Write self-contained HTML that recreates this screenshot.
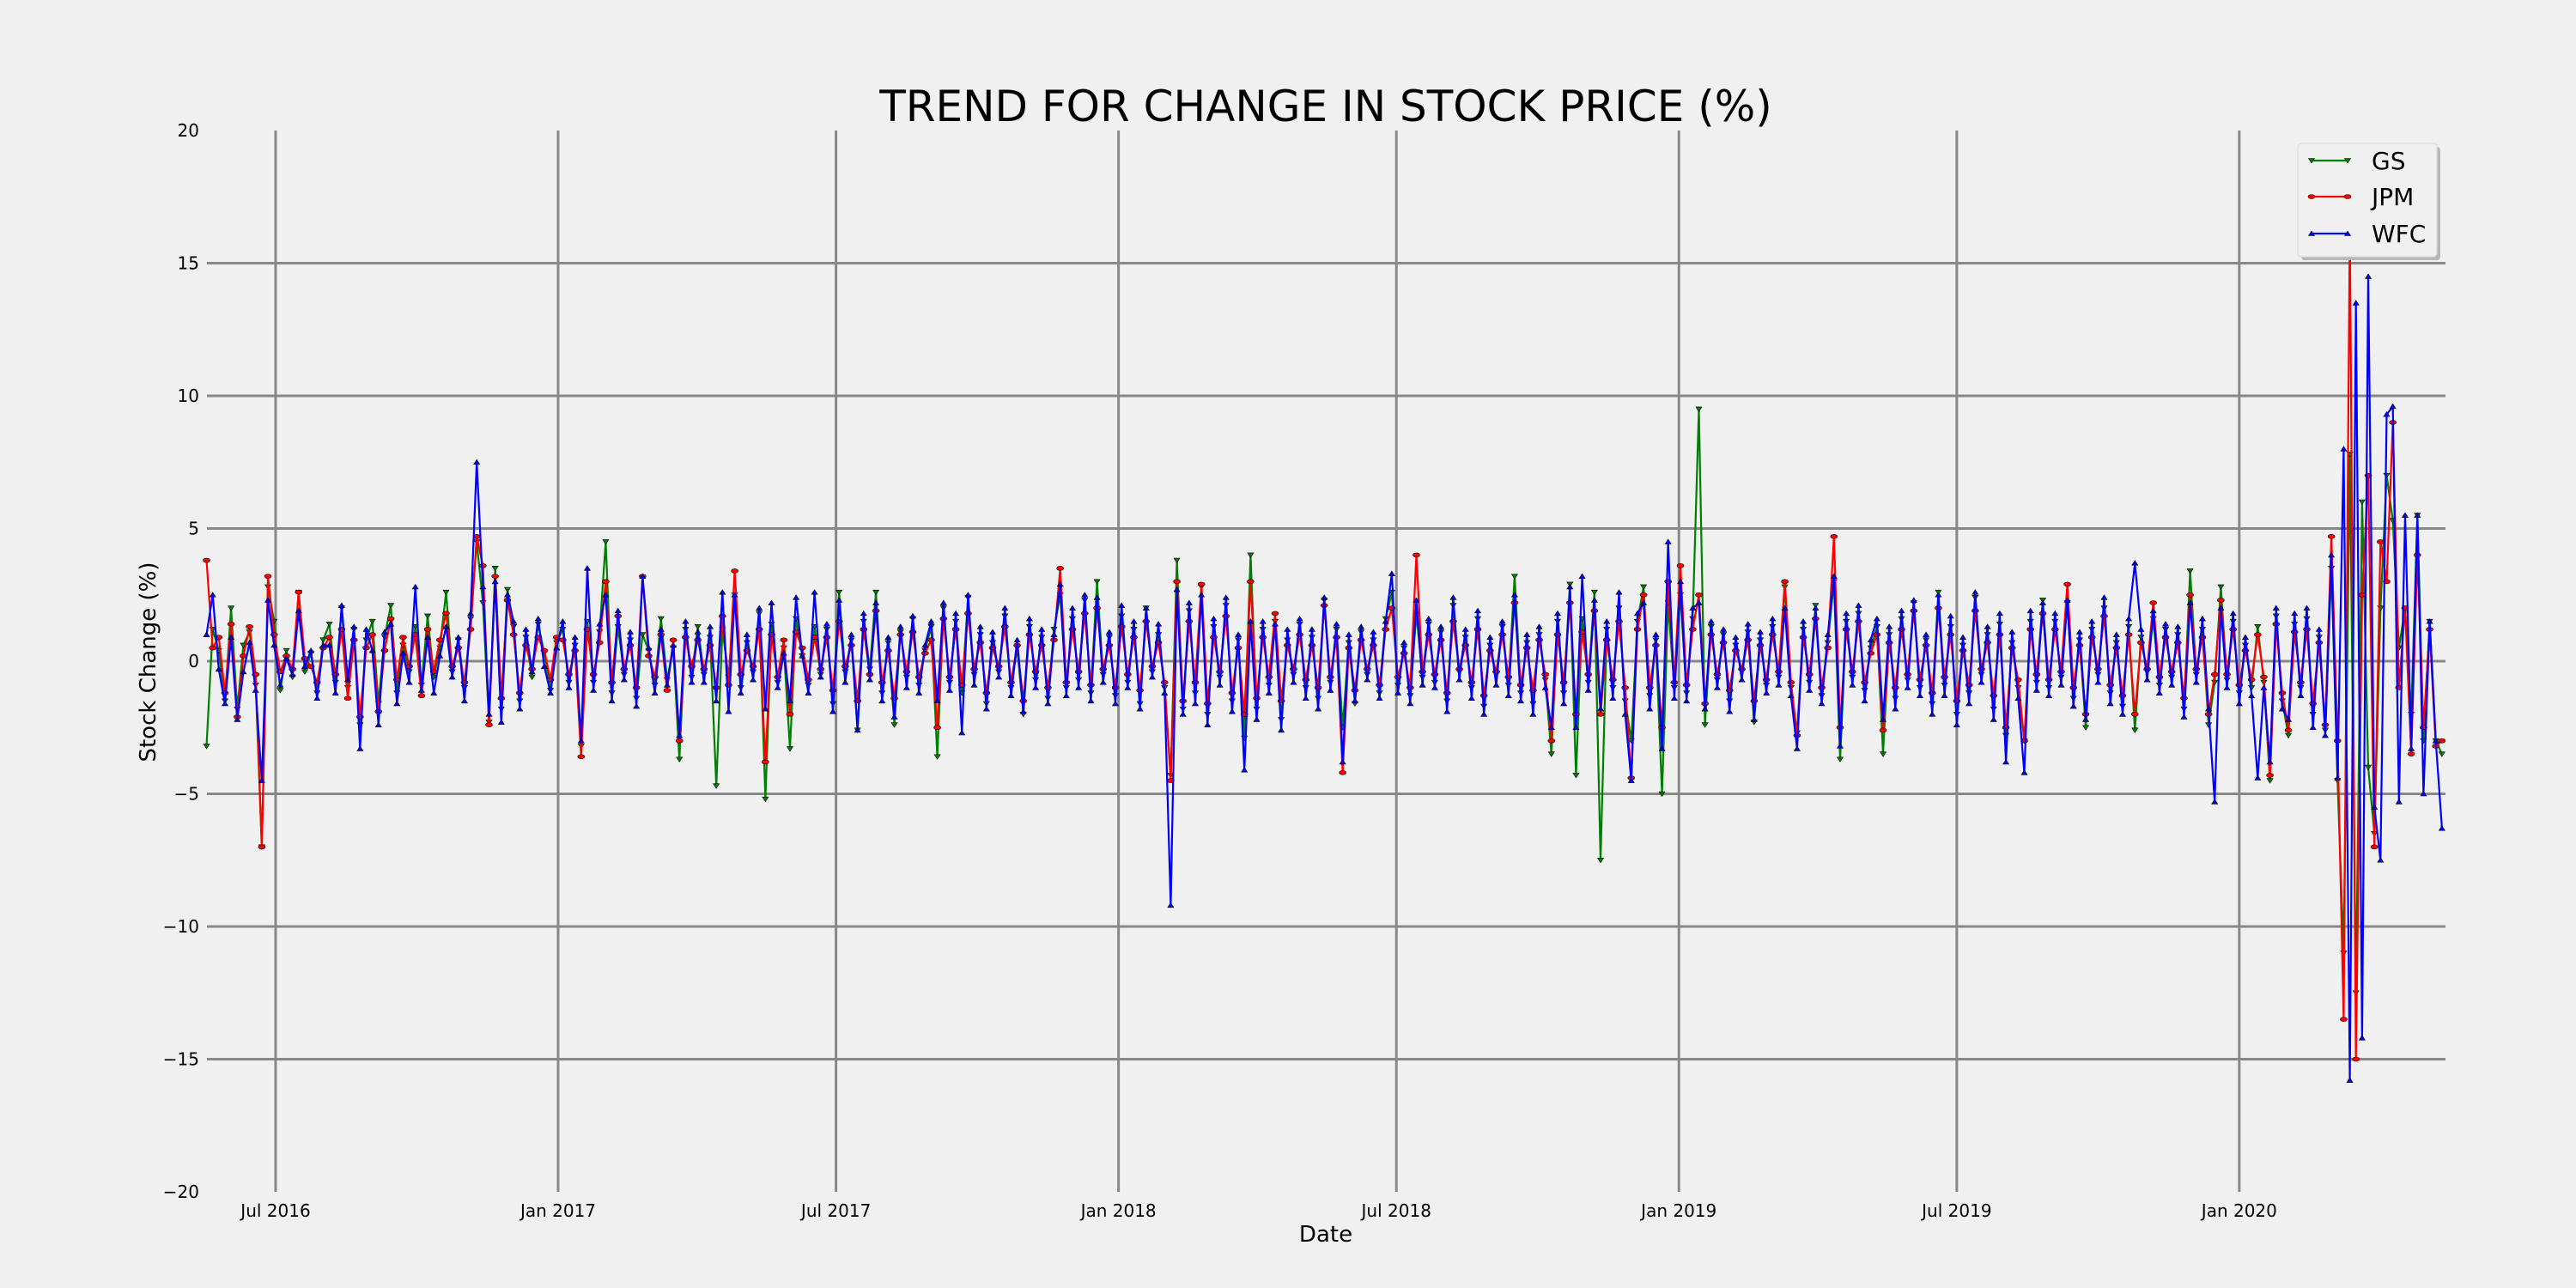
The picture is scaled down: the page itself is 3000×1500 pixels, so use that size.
<!DOCTYPE html>
<html><head><meta charset="utf-8"><style>
html,body{margin:0;padding:0;background:#f0f0f0;}
svg{display:block;font-family:"DejaVu Sans","Liberation Sans",sans-serif;}
</style></head><body>
<svg id="chart" width="3000" height="1500" viewBox="0 0 3000 1500" xmlns="http://www.w3.org/2000/svg">
<rect width="3000" height="1500" fill="#f0f0f0"/>
<text x="1544" y="141" font-size="50" text-anchor="middle" fill="#000">TREND FOR CHANGE IN STOCK PRICE (%)</text>
<g id="grid"></g>
<g id="yticks"></g>
<g id="xticks"></g>
<text x="1544" y="1446" font-size="26" text-anchor="middle">Date</text>
<text x="0" y="0" font-size="26" text-anchor="middle" transform="translate(181,771) rotate(-90)">Stock Change (%)</text>
<g id="series"></g>
<g id="legend">
<rect x="2680" y="171" width="162" height="132" rx="4" fill="#b8b8b8"/>
<rect x="2676" y="167" width="162" height="132" rx="4" fill="#f0f0f0" stroke="#d8d8d8" stroke-width="1"/>
</g>
</svg>
<script>
const startDate = '2016-05-17';
const stepDays = 4;
const yTicks = [-20,-15,-10,-5,0,5,10,15,20];
const xTickLabels = ['Jul 2016','Jan 2017','Jul 2017','Jan 2018','Jul 2018','Jan 2019','Jul 2019','Jan 2020'];
const xTickDates = ['2016-07-01','2017-01-01','2017-07-01','2018-01-01','2018-07-01','2019-01-01','2019-07-01','2020-01-01'];
const seriesNames = ['GS','JPM','WFC'];
const gsValues = [
-3.2,1.2,0.4,-1.5,2.0,-1.8,0.6,1.1,-0.9,-7.0,2.8,1.5,-1.1,0.4,-0.6,2.6,-0.4,0.3,-1.2,0.8,
1.4,-0.8,2.0,-1.0,1.2,-2.4,0.8,1.5,-1.6,0.9,2.1,-1.2,0.6,-0.4,1.3,-0.9,1.7,-0.6,0.5,2.6,
-0.4,0.8,-1.0,1.6,4.5,2.2,-2.3,3.5,-1.8,2.7,1.3,-1.5,0.9,-0.6,1.4,0.3,-1.1,0.7,1.2,-0.8,
0.6,-3.2,1.5,-0.8,1.1,4.5,-1.2,1.3,-0.5,0.8,-1.4,1.0,0.4,-0.9,1.6,-0.7,0.5,-3.7,1.2,-0.6,
1.3,-0.5,0.9,-4.7,1.2,-0.6,2.5,-1.0,0.7,-0.4,1.8,-5.2,1.4,-0.8,0.5,-3.3,1.6,0.2,-0.9,1.3,
-0.5,1.2,-1.6,2.6,-0.4,0.8,-2.6,1.5,-0.3,2.6,-1.2,0.7,-2.4,1.1,-0.6,1.6,-0.9,0.4,1.3,-3.6,
2.0,-0.8,1.5,-1.2,2.4,-0.5,1.0,-1.6,0.7,-0.4,1.7,-1.0,0.5,-2.0,1.3,-0.7,0.9,-1.4,1.2,2.5,
-1.0,1.6,-0.7,2.3,-1.2,3.0,-0.5,0.9,-1.3,1.7,-0.8,1.2,-1.6,2.0,-0.4,1.0,-1.0,-4.3,3.8,-1.8,
1.9,-1.2,2.8,-2.0,1.3,-0.6,2.1,-1.5,0.8,-2.9,4.0,-1.8,1.2,-0.9,1.5,-2.2,0.8,-0.5,1.4,-1.0,
0.9,-1.4,2.3,-0.8,1.2,-2.5,0.7,-1.6,1.1,-0.5,0.8,-1.2,1.6,2.6,-0.9,0.5,-1.3,1.8,-0.6,1.4,
-0.8,1.1,-1.5,2.1,-0.4,0.9,-1.0,1.6,-1.7,0.6,-0.5,1.3,-0.9,3.2,-1.2,0.7,-1.6,1.0,-0.7,-3.5,
1.5,-1.2,2.9,-4.3,1.6,-0.8,2.6,-7.5,1.2,-1.0,2.0,-1.5,-3.0,1.5,2.8,-1.3,0.8,-5.0,2.2,-1.0,
2.5,-1.2,1.6,9.5,-2.4,1.3,-0.7,1.0,-1.5,0.6,-0.4,1.1,-2.3,0.8,-0.9,1.3,-0.6,2.8,-1.0,-2.7,
1.2,-0.8,2.1,-1.3,0.7,3.0,-3.7,1.5,-0.6,1.8,-1.1,0.5,1.3,-3.5,1.0,-1.4,1.6,-0.7,2.2,-1.0,
0.8,-1.6,2.6,-0.9,1.3,-2.0,0.6,-1.2,2.4,-0.5,1.0,-1.8,1.4,-2.8,0.7,-1.0,-3.0,1.5,-0.8,2.3,
-1.0,1.5,-0.6,2.2,-1.4,0.8,-2.5,1.2,-0.5,2.0,-1.2,0.7,-1.7,1.3,-2.6,0.9,-0.4,1.6,-0.9,1.2,
-0.6,1.0,-1.8,3.4,-0.5,1.2,-2.4,-0.8,2.8,-0.7,1.5,-1.2,0.6,-1.0,1.3,-0.8,-4.5,1.7,-1.5,-2.8,
1.4,-1.0,1.6,-2.0,0.9,-2.6,
3.5,-4.5,-11,7.8,-12.5,6.0,-4,-6.5,2,7,5.3,0.5,2,-2,5.5,-3,1.5,-3,-3.5];
const jpmValues = [
3.8,0.5,0.9,-1.2,1.4,-2.1,0.2,1.3,-0.5,-7.0,3.2,1.0,-0.4,0.2,-0.3,2.6,0.1,-0.2,-0.8,0.5,
0.9,-0.5,1.2,-1.4,0.8,-2.1,0.5,1.0,-1.9,0.4,1.6,-0.7,0.9,-0.2,1.0,-1.3,1.2,-0.4,0.8,1.8,
-0.2,0.5,-0.8,1.2,4.7,3.6,-2.4,3.2,-1.4,2.3,1.0,-1.2,0.6,-0.3,0.9,0.4,-0.7,0.9,0.8,-0.5,
0.4,-3.6,1.2,-0.5,0.7,3.0,-0.8,1.7,-0.3,0.6,-1.0,3.2,0.2,-0.6,1.0,-1.1,0.8,-3.0,0.9,-0.2,
0.8,-0.3,0.6,-1.0,1.7,-0.9,3.4,-0.5,0.4,-0.2,1.2,-3.8,1.0,-0.6,0.8,-2.0,1.1,0.5,-0.7,0.9,
-0.3,0.9,-1.1,1.5,-0.2,0.6,-1.5,1.2,-0.5,1.9,-0.8,0.4,-1.4,1.0,-0.4,1.1,-0.6,0.3,0.8,-2.5,
1.6,-0.6,1.2,-0.9,1.8,-0.3,0.7,-1.2,0.5,-0.2,1.3,-0.8,0.6,-1.5,1.0,-0.4,0.6,-1.0,0.8,3.5,
-0.8,1.2,-0.4,1.8,-0.9,2.0,-0.3,0.6,-1.0,1.3,-0.5,0.9,-1.1,1.5,-0.2,0.7,-0.8,-4.5,3.0,-1.5,
1.5,-0.8,2.9,-1.6,0.9,-0.4,1.7,-1.2,0.5,-2.0,3.0,-1.4,0.9,-0.6,1.8,-1.5,0.6,-0.3,1.0,-0.7,
0.6,-1.0,2.1,-0.6,0.9,-4.2,0.5,-1.1,0.8,-0.3,0.6,-0.9,1.2,2.0,-0.6,0.3,-1.0,4.0,-0.4,1.0,
-0.5,0.8,-1.2,1.5,-0.3,0.6,-0.8,1.2,-1.3,0.4,-0.4,1.0,-0.6,2.2,-0.9,0.5,-1.1,0.8,-0.5,-3.0,
1.0,-0.8,2.2,-2.0,1.1,-0.5,1.9,-2.0,0.8,-0.7,1.5,-1.0,-4.4,1.2,2.5,-1.0,0.6,-2.5,3.0,-0.8,
3.6,-0.9,1.2,2.5,-1.6,1.0,-0.5,0.7,-1.1,0.4,-0.3,0.8,-1.5,0.6,-0.7,1.0,-0.4,3.0,-0.8,-2.8,
0.9,-0.5,1.6,-1.0,0.5,4.7,-2.5,1.2,-0.4,1.5,-0.8,0.3,1.0,-2.6,0.7,-1.0,1.2,-0.5,1.9,-0.7,
0.6,-1.2,2.0,-0.6,1.0,-1.5,0.4,-0.9,1.9,-0.3,0.7,-1.3,1.0,-2.5,0.5,-0.7,-3.0,1.2,-0.5,1.8,
-0.7,1.2,-0.4,2.9,-1.0,0.6,-2.0,0.9,-0.3,1.7,-0.9,0.5,-1.3,1.0,-2.0,0.7,-0.3,2.2,-0.6,0.9,
-0.4,0.7,-1.4,2.5,-0.3,0.9,-2.0,-0.5,2.3,-0.5,1.2,-0.9,0.4,-0.7,1.0,-0.6,-4.3,1.4,-1.2,-2.6,
1.1,-0.8,1.2,-1.6,0.7,-2.4,
4.7,-3.0,-13.5,16.5,-15,2.5,7,-7,4.5,3,9,-1,2,-3.5,4,-2.5,1.2,-3.2,-3];
const wfcValues = [
1.0,2.5,-0.3,-1.6,0.9,-2.2,-0.4,0.7,-1.1,-4.5,2.3,0.6,-0.9,0.1,-0.5,1.9,-0.2,0.4,-1.4,0.6,
0.6,-1.2,2.1,-0.7,1.3,-3.3,1.2,0.4,-2.4,1.1,1.4,-1.6,0.3,-0.8,2.8,-1.1,0.9,-1.2,0.2,1.3,
-0.6,0.9,-1.5,1.8,7.5,2.8,-2.0,3.0,-2.3,2.5,1.5,-1.8,1.2,-0.4,1.6,-0.2,-1.2,0.5,1.5,-1.0,
0.9,-3.0,3.5,-1.1,1.4,2.5,-1.5,1.9,-0.7,1.1,-1.7,3.2,0.5,-1.2,1.2,-0.9,0.6,-2.8,1.5,-0.8,
1.1,-0.8,1.3,-1.5,2.6,-1.9,2.5,-1.2,1.0,-0.7,2.0,-1.8,2.2,-1.0,0.3,-1.5,2.4,0.2,-1.2,2.6,
-0.6,1.4,-1.9,2.3,-0.8,1.0,-2.6,1.8,-0.7,2.2,-1.5,0.9,-2.1,1.3,-1.0,1.7,-1.2,0.6,1.5,-1.5,
2.2,-1.1,1.8,-2.7,2.5,-0.9,1.3,-1.8,1.1,-0.6,2.0,-1.3,0.8,-1.9,1.6,-1.0,1.2,-1.6,1.0,2.9,
-1.3,2.0,-1.0,2.5,-1.5,2.4,-0.8,1.1,-1.6,2.1,-1.0,1.5,-1.8,2.0,-0.6,1.4,-1.2,-9.2,2.7,-2.0,
2.2,-1.6,2.5,-2.4,1.6,-0.9,2.4,-1.9,1.0,-4.1,1.5,-2.2,1.5,-1.2,1.4,-2.6,1.2,-0.8,1.6,-1.4,
1.2,-1.8,2.4,-1.1,1.4,-3.8,1.0,-1.5,1.3,-0.7,1.1,-1.4,1.5,3.3,-1.2,0.7,-1.6,2.3,-0.9,1.6,
-1.0,1.3,-1.9,2.4,-0.7,1.2,-1.4,1.9,-2.0,0.9,-0.9,1.5,-1.3,2.5,-1.5,1.0,-2.0,1.3,-1.0,-2.5,
1.8,-1.6,2.8,-2.5,3.2,-1.1,2.3,-1.8,1.5,-1.4,2.6,-2.0,-4.5,1.8,2.2,-1.8,1.0,-3.3,4.5,-1.4,
3.0,-1.5,2.0,2.2,-1.8,1.5,-1.0,1.2,-1.9,0.9,-0.7,1.4,-2.2,1.1,-1.2,1.6,-0.9,2.0,-1.3,-3.3,
1.5,-1.1,2.0,-1.6,1.0,3.2,-3.2,1.8,-0.9,2.1,-1.5,0.8,1.6,-2.2,1.3,-1.8,1.9,-1.0,2.3,-1.3,
1.0,-2.0,2.5,-1.3,1.7,-2.4,0.9,-1.6,2.6,-0.8,1.3,-2.2,1.8,-3.8,1.1,-1.4,-4.2,1.9,-1.1,2.2,
-1.3,1.8,-0.9,2.3,-1.7,1.1,-2.2,1.5,-0.8,2.4,-1.6,1.0,-2.0,1.6,3.7,1.2,-0.7,1.9,-1.2,1.4,
-0.9,1.3,-2.1,2.2,-0.8,1.6,-1.8,-5.3,2.0,-1.0,1.8,-1.6,0.9,-1.3,-4.4,-1.0,-3.8,2.0,-1.8,-2.2,
1.8,-1.3,2.0,-2.5,1.2,-2.8,
4.0,-4.4,8.0,-15.8,13.5,-14.2,14.5,-5.5,-7.5,9.3,9.6,-5.3,5.5,-3.3,5.5,-5,1.5,-3,-6.3];

const NS='http://www.w3.org/2000/svg';
const PL=241, PR=2848, PT=152, PB=1388;
const X0=321, PXDAY=1.788;
function dayNum(s){const p=s.split('-');return Date.UTC(+p[0],+p[1]-1,+p[2])/86400000;}
const REF=dayNum('2016-07-01');
function xScale(dayIndex){return X0+(dayIndex-REF)*PXDAY;}
function yScale(v){return PT+(20-v)*(PB-PT)/40;}
function mk(tag,attrs,parent){const e=document.createElementNS(NS,tag);for(const k in attrs)e.setAttribute(k,attrs[k]);parent.appendChild(e);return e;}

const grid=document.getElementById('grid');
const yt=document.getElementById('yticks');
const xt=document.getElementById('xticks');
yTicks.forEach(v=>{
  const y=yScale(v);
  if(v>-20&&v<20){
    const l=mk('line',{x1:PL,x2:PR,y1:y,y2:y,stroke:'#888',"stroke-width":3},grid);
    
    
  }
  const t=mk('text',{x:232,y:y+7,"font-size":20,"text-anchor":"end"},yt);
  t.textContent=v<0?'\u2212'+Math.abs(v):String(v);
  
  
});
xTickDates.forEach((d,i)=>{
  const x=xScale(dayNum(d));
  const l=mk('line',{x1:x,x2:x,y1:PT,y2:PB,stroke:'#888',"stroke-width":3},grid);
  
  
  const t=mk('text',{x:x,y:1417,"font-size":20,"text-anchor":"middle"},xt);
  t.textContent=xTickLabels[i];
  
  
});

const colors=['#008000','#ff0000','#0000ff'];
const allValues=[gsValues,jpmValues,wfcValues];
const sg=document.getElementById('series');
const start=dayNum(startDate);
function marker(kind,x,y,color,parent){
  let e;
  if(kind===0){e=mk('path',{d:`M${x-3.5},${y-2.5}L${x+3.5},${y-2.5}L${x},${y+3}Z`,fill:color,stroke:'#000',"stroke-width":0.6},parent);}
  else if(kind===1){e=mk('ellipse',{cx:x,cy:y,rx:4,ry:2.5,fill:color,stroke:'#000',"stroke-width":0.6},parent);}
  else {e=mk('path',{d:`M${x-3.5},${y+2.5}L${x+3.5},${y+2.5}L${x},${y-3}Z`,fill:color,stroke:'#000',"stroke-width":0.6},parent);}
  return e;
}
allValues.forEach((vals,s)=>{
  const g=mk('g',{},sg);
  
  
  const pts=vals.map((v,i)=>[xScale(start+i*stepDays),yScale(v)]);
  const line=mk('polyline',{points:pts.map(p=>p[0].toFixed(1)+','+p[1].toFixed(1)).join(' '),fill:'none',stroke:colors[s],"stroke-width":2.2,"stroke-linejoin":"round"},g);
  
  
  pts.forEach(p=>{
    const m=marker(s,p[0],p[1],colors[s],g);
    
    
  });
});

const lg=document.getElementById('legend');
const rowsY=[187,229,272];
seriesNames.forEach((n,s)=>{
  const y=rowsY[s];
  const e=mk('g',{},lg);
  
  
  mk('line',{x1:2692,x2:2734,y1:y,y2:y,stroke:colors[s],"stroke-width":2.2},e);
  marker(s,2692,y,colors[s],e);
  marker(s,2734,y,colors[s],e);
  const t=mk('text',{x:2762,y:y+10,"font-size":28},e);
  t.textContent=n;
});
</script>
</body></html>
